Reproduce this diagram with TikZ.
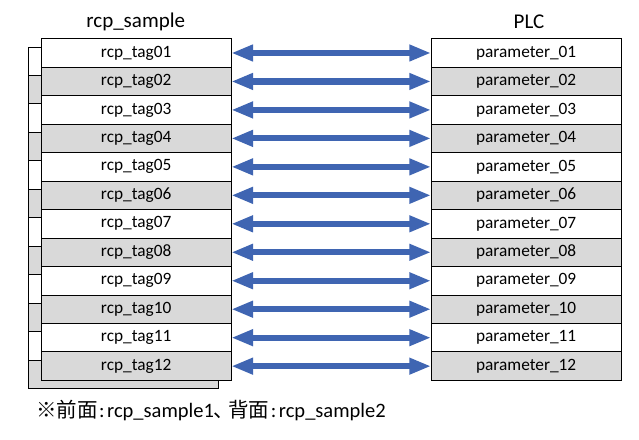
\documentclass[tikz,border=0pt]{standalone}
\usepackage{fontspec}
\setmainfont{Carlito}
\newfontfamily\cjk{Noto Sans CJK JP}
\usetikzlibrary{arrows.meta}
\definecolor{rowgray}{HTML}{D9D9D9}
\definecolor{arrfill}{HTML}{3F65B2}
\definecolor{arrline}{HTML}{2F528F}
\tikzset{
  cell/.style={draw=black, line width=0.9pt, minimum width=190pt, minimum height=28.47pt, inner sep=0pt, anchor=north west, font=\fontsize{17.3pt}{20pt}\selectfont},
  oddrow/.style={cell, fill=white},
  evenrow/.style={cell, fill=rowgray},
  title/.style={font=\fontsize{21pt}{24pt}\selectfont, inner sep=0pt},
  link/.style={draw=arrline, line width=6.2pt, color=arrfill, {Triangle[length=21.7pt,width=15.5pt]}-{Triangle[length=21.7pt,width=15.5pt]}, shorten <=-0.3pt, shorten >=-0.3pt},
  note/.style={font=\fontsize{20.5pt}{24pt}\selectfont, inner sep=0pt, anchor=west}
}
\begin{document}
\begin{tikzpicture}[x=1pt,y=-1pt]
\useasboundingbox[fill=white] (0,0) rectangle (639,439);
% back table (rcp_sample2); its texts are hidden behind the front table except the last row
\foreach \i in {1,...,11}{
  \pgfmathsetmacro{\yy}{46.5+(\i-1)*28.47}
  \ifodd\i
    \node[oddrow] (b\i) at (28.3,\yy) {};
  \else
    \node[evenrow] (b\i) at (28.3,\yy) {};
  \fi
}
\node[evenrow] (b12) at (28.3,{46.5+11*28.47}) {rcp\_tag12};
% front table (rcp_sample1) and PLC table
\foreach \i in {1,...,12}{
  \pgfmathsetmacro{\yy}{38.3+(\i-1)*28.47}
  \ifodd\i
    \node[oddrow] (l\i) at (40.7,\yy) {rcp\_tag\ifnum\i<10 0\fi\i};
    \node[oddrow] (r\i) at (430.7,\yy) {parameter\_\ifnum\i<10 0\fi\i};
  \else
    \node[evenrow] (l\i) at (40.7,\yy) {rcp\_tag\ifnum\i<10 0\fi\i};
    \node[evenrow] (r\i) at (430.7,\yy) {parameter\_\ifnum\i<10 0\fi\i};
  \fi
  \draw[link] (l\i.east) -- (r\i.west);
}
\node[title] (tl) at (135.7,22) {rcp\_sample};
\node[title] (tr) at (529,22) {PLC};
\node[note] (nt) at (36,410) {{\cjk ※前面}\kern1.5pt:\kern2.5pt rcp\_sample1{\cjk 、}\kern-6pt{\cjk 背面}\kern1.5pt:\kern2.5pt rcp\_sample2};
\end{tikzpicture}
\end{document}
